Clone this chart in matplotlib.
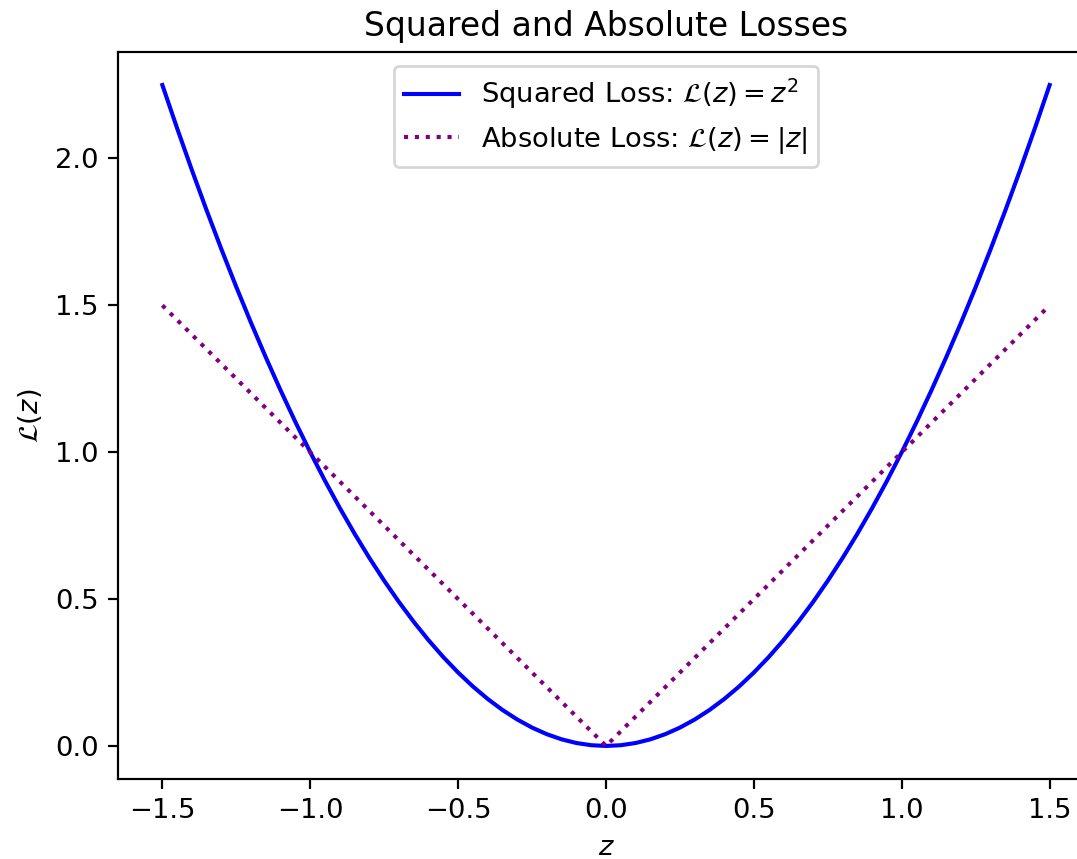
import matplotlib
matplotlib.use("Agg")
from matplotlib import pyplot as plt

# sample points (left half, mirrored for the right)
z_left = [-1.5, -1.45, -1.4, -1.35, -1.3, -1.25, -1.2, -1.15, -1.1, -1.05,
          -1.0, -0.95, -0.9, -0.85, -0.8, -0.75, -0.7, -0.65, -0.6, -0.55,
          -0.5, -0.45, -0.4, -0.35, -0.3, -0.25, -0.2, -0.15, -0.1, -0.05]
sq_left = [2.25, 2.1025, 1.96, 1.8225, 1.69, 1.5625, 1.44, 1.3225, 1.21, 1.1025,
           1.0, 0.9025, 0.81, 0.7225, 0.64, 0.5625, 0.49, 0.4225, 0.36, 0.3025,
           0.25, 0.2025, 0.16, 0.1225, 0.09, 0.0625, 0.04, 0.0225, 0.01, 0.0025]

z = z_left + [0.0] + [-v for v in reversed(z_left)]
squared = sq_left + [0.0] + list(reversed(sq_left))
z_abs = [-1.5, 0.0, 1.5]
absolute = [1.5, 0.0, 1.5]

dpi = 197
fig = plt.figure(figsize=(1077 / dpi, 859 / dpi), dpi=dpi)
ax = fig.add_axes([118 / 1077, 80 / 859, 976 / 1077, 727 / 859])

ax.plot(z, squared, color='blue', label=r'Squared Loss: $\mathcal{L}(z) = z^2$')
ax.plot(z_abs, absolute, color='purple', linestyle=':',
        label=r'Absolute Loss: $\mathcal{L}(z) = |z|$')

ax.set_title('Squared and Absolute Losses')
ax.set_xlabel('$z$')
ax.set_ylabel(r'$\mathcal{L}(z)$')
ax.set_xticks([-1.5, -1.0, -0.5, 0.0, 0.5, 1.0, 1.5])
ax.legend(loc='upper center')

fig.savefig('out.png', dpi=dpi)
